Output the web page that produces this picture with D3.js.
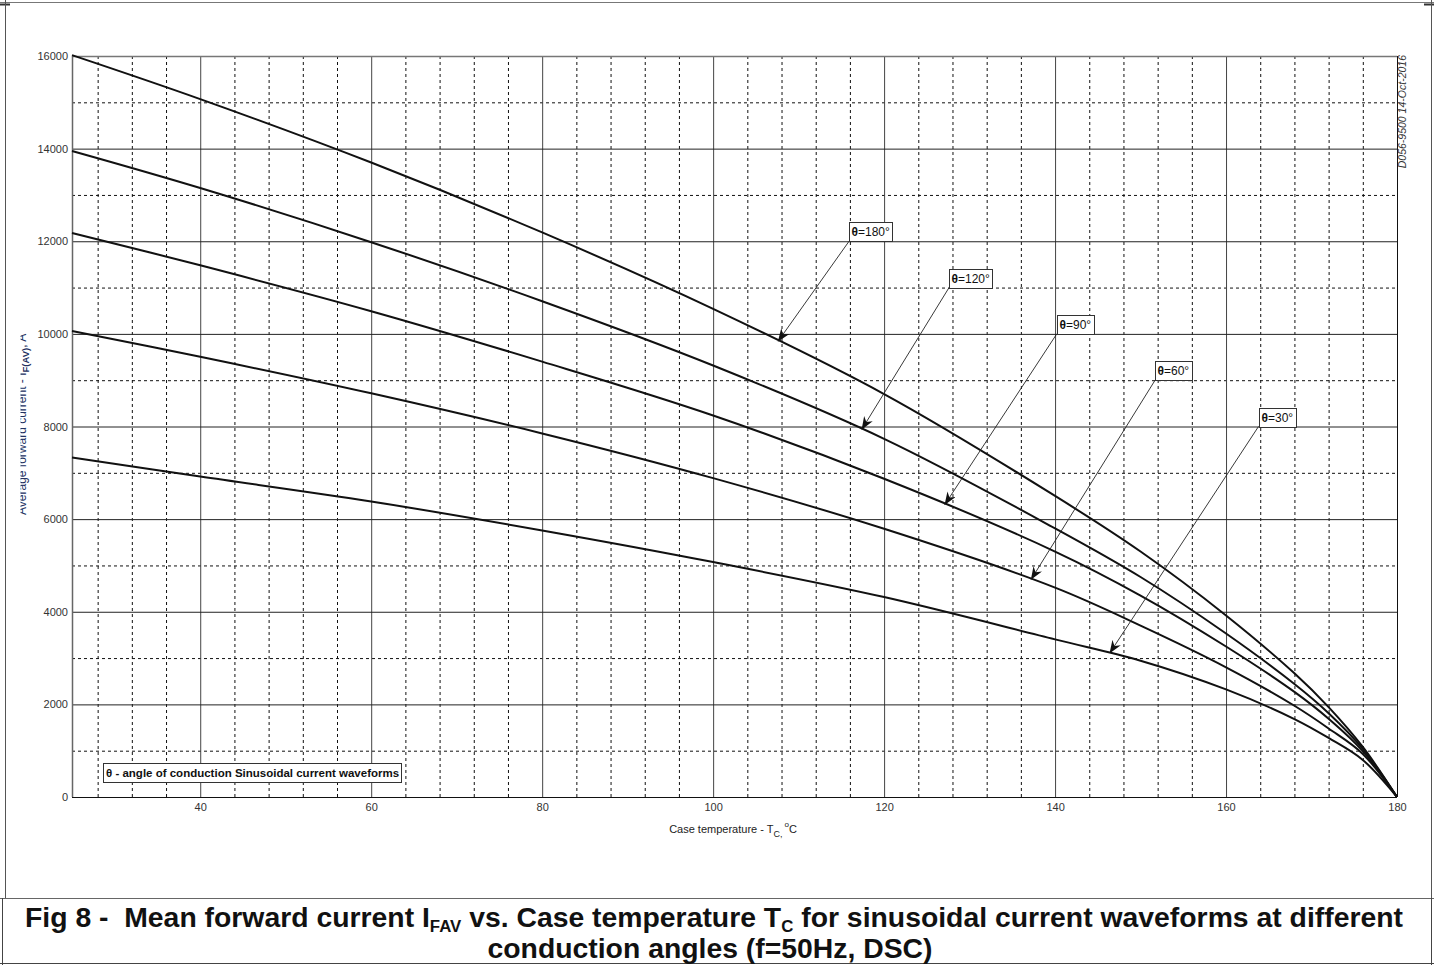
<!DOCTYPE html>
<html>
<head>
<meta charset="utf-8">
<script src="https://cdn.jsdelivr.net/npm/d3@7"></script>
<style>
  body { margin: 0; background: #fff; }
  svg { display: block; }
  text { font-family: "Liberation Sans", Arial, sans-serif; }
</style>
</head>
<body>
<div id="chart"></div>
<script>
// case temperature, degC
var temps = [25, 40, 60, 80, 100, 120, 140, 150, 160, 168, 172, 176, 180];

// mean forward current I_FAV (A), one list per conduction angle
var ifav180 = [16020, 15070, 13700, 12190, 10540, 8700, 6500, 5300, 3920, 2670, 1940, 1080, 0];
var ifav120 = [13950, 13150, 11980, 10705, 9317, 7734, 5800, 4750, 3530, 2440, 1810, 1040, 0];
var ifav90  = [12180, 11480, 10490, 9400, 8237, 6871, 5300, 4350, 3250, 2270, 1690, 990, 0];
var ifav60  = [10060, 9506, 8716, 7850, 6885, 5791, 4520, 3700, 2800, 1970, 1480, 930, 0];
var ifav30  = [7330, 6920, 6381, 5755, 5072, 4317, 3403, 2943, 2323, 1683, 1275, 800, 0];

var angles = [180, 120, 90, 60, 30];
var xTicks = [40, 60, 80, 100, 120, 140, 160, 180];
var yTicks = [0, 2000, 4000, 6000, 8000, 10000, 12000, 14000, 16000];

// label callouts: where the box sits (T, I) and where the arrow hits the curve (T)
var labelTemps  = [115.9, 127.6, 140.2, 151.7, 163.8];
var labelLevels = [12000, 11000, 10000, 9000, 8000];
var arrowTemps  = [107.6, 117.4, 127.1, 137.2, 146.4];

var W = 1434, H = 965;
var pLeft = 72, pRight = 1397, pTop = 56, pBottom = 797;

var series = [ifav180, ifav120, ifav90, ifav60, ifav30].map(function (vals, i) {
  return { angle: angles[i], values: temps.map(function (t, j) { return [t, vals[j]]; }) };
});

var x = d3.scaleLinear().domain([25, 180]).range([pLeft, pRight]);
var y = d3.scaleLinear().domain([0, 16000]).range([pBottom, pTop]);

var svg = d3.select("#chart").append("svg")
  .attr("width", W)
  .attr("height", H);

// page frame
svg.append("line").attr("x1", 0).attr("x2", W).attr("y1", 2.5).attr("y2", 2.5).attr("stroke", "#777");
svg.append("line").attr("x1", 0).attr("x2", 10).attr("y1", 4.5).attr("y2", 4.5).attr("stroke", "#333").attr("stroke-width", 2);
svg.append("line").attr("x1", 1424).attr("x2", W).attr("y1", 4.5).attr("y2", 4.5).attr("stroke", "#333").attr("stroke-width", 2);
svg.append("line").attr("x1", 5.5).attr("x2", 5.5).attr("y1", 0).attr("y2", 899).attr("stroke", "#555");
svg.append("line").attr("x1", 1431.5).attr("x2", 1431.5).attr("y1", 0).attr("y2", 899).attr("stroke", "#555");
svg.append("line").attr("x1", 0).attr("x2", W).attr("y1", 898.5).attr("y2", 898.5).attr("stroke", "#666");
svg.append("line").attr("x1", 2.5).attr("x2", 2.5).attr("y1", 898).attr("y2", H).attr("stroke", "#444");
svg.append("line").attr("x1", 1431.5).attr("x2", 1431.5).attr("y1", 898).attr("y2", H).attr("stroke", "#444");
svg.append("line").attr("x1", 0).attr("x2", W).attr("y1", 963.5).attr("y2", 963.5).attr("stroke", "#444");

// grid
var minorX = d3.range(28, 180, 4).filter(function (t) { return t % 20 !== 0; });
var majorX = d3.range(40, 180, 20);
var minorY = d3.range(1000, 16000, 2000);
var majorY = d3.range(2000, 16000, 2000);

function grid(axis, tr, dashed, color) {
  var g = svg.append("g").attr("transform", tr).call(axis);
  g.select(".domain").remove();
  g.selectAll("line")
    .attr("stroke", color)
    .attr("stroke-width", 1)
    .attr("stroke-dasharray", dashed ? "3,3" : null);
  return g;
}
grid(d3.axisBottom(x).tickValues(minorX).tickSize(-(pBottom - pTop)).tickFormat(""), "translate(0," + pBottom + ")", true, "#111");
grid(d3.axisLeft(y).tickValues(minorY).tickSize(-(pRight - pLeft)).tickFormat(""), "translate(" + pLeft + ",0)", true, "#111");
grid(d3.axisBottom(x).tickValues(majorX).tickSize(-(pBottom - pTop)).tickFormat(""), "translate(0," + pBottom + ")", false, "#444");
grid(d3.axisLeft(y).tickValues(majorY).tickSize(-(pRight - pLeft)).tickFormat(""), "translate(" + pLeft + ",0)", false, "#222");

// plot frame
svg.append("line").attr("x1", pLeft).attr("x2", pRight).attr("y1", y(16000) + 0.5).attr("y2", y(16000) + 0.5).attr("stroke", "#777").attr("stroke-width", 1.5);
svg.append("line").attr("x1", pLeft + 0.5).attr("x2", pLeft + 0.5).attr("y1", pTop).attr("y2", pBottom).attr("stroke", "#666").attr("stroke-width", 1.5);
svg.append("line").attr("x1", pRight + 0.5).attr("x2", pRight + 0.5).attr("y1", pTop).attr("y2", pBottom).attr("stroke", "#111");
svg.append("line").attr("x1", pLeft).attr("x2", pRight).attr("y1", pBottom + 0.5).attr("y2", pBottom + 0.5).attr("stroke", "#111");

// tick labels
var yAx = svg.append("g").attr("transform", "translate(" + pLeft + ",0)")
  .call(d3.axisLeft(y).tickValues(yTicks).tickFormat(d3.format("d")).tickSize(0).tickPadding(4));
yAx.select(".domain").remove();
yAx.selectAll("text").attr("font-family", "Liberation Sans, Arial, sans-serif").attr("font-size", 11).attr("fill", "#333");

var xAx = svg.append("g").attr("transform", "translate(0," + pBottom + ")")
  .call(d3.axisBottom(x).tickValues(xTicks).tickFormat(d3.format("d")).tickSize(0).tickPadding(6));
xAx.select(".domain").remove();
xAx.selectAll("text").attr("font-family", "Liberation Sans, Arial, sans-serif").attr("font-size", 11).attr("fill", "#333");

// x axis title
var xt = svg.append("text").attr("x", 733).attr("y", 833).attr("text-anchor", "middle")
  .attr("font-size", 11).attr("fill", "#222");
xt.append("tspan").text("Case temperature - T");
xt.append("tspan").attr("font-size", 9).attr("dy", 4).text("C,");
xt.append("tspan").attr("font-size", 8).attr("dy", -10).attr("dx", 2).text("o");
xt.append("tspan").attr("dy", 6).text("C");

// y axis title (partly cut off at the left in the source)
svg.append("clipPath").attr("id", "ylab-clip")
  .append("rect").attr("x", 20.5).attr("y", 300).attr("width", 30).attr("height", 260);
var yt = svg.append("g").attr("clip-path", "url(#ylab-clip)")
  .append("text").attr("transform", "translate(26,515) rotate(-90)")
  .attr("font-size", 12).attr("fill", "#23305e");
yt.append("tspan").text("Average forward current - I");
yt.append("tspan").attr("font-size", 9.5).attr("font-weight", "bold").attr("dy", 3).text("F(AV)");
yt.append("tspan").attr("dy", -3).text(", A");

// drawing id at the right edge
svg.append("text").attr("transform", "translate(1406,55) rotate(-90)")
  .attr("text-anchor", "end").attr("font-size", 10.5).attr("font-style", "italic").attr("fill", "#333")
  .text("D056-9500  14-Oct-2016");

// curves
var line = d3.line()
  .x(function (d) { return x(d[0]); })
  .y(function (d) { return y(d[1]); })
  .curve(d3.curveCatmullRom.alpha(0.5));

svg.append("g").selectAll("path")
  .data(series)
  .enter().append("path")
  .attr("d", function (d) { return line(d.values); })
  .attr("fill", "none")
  .attr("stroke", "#111")
  .attr("stroke-width", 2);

// arrow head
svg.append("defs").append("marker")
  .attr("id", "arrow")
  .attr("viewBox", "0 0 13 10")
  .attr("markerUnits", "userSpaceOnUse")
  .attr("markerWidth", 13).attr("markerHeight", 10)
  .attr("refX", 12.5).attr("refY", 5)
  .attr("orient", "auto")
  .append("path").attr("d", "M0,0 L13,5 L0,10 L4,5 Z").attr("fill", "#111");

// callouts
series.forEach(function (s, i) {
  var interp = d3.scaleLinear().domain(temps).range(s.values.map(function (d) { return d[1]; }));
  var bx = x(labelTemps[i]), by = y(labelLevels[i]);
  var tx = x(arrowTemps[i]), ty = y(interp(arrowTemps[i]));

  svg.append("line")
    .attr("x1", bx).attr("y1", by).attr("x2", tx).attr("y2", ty)
    .attr("stroke", "#222").attr("stroke-width", 0.9)
    .attr("marker-end", "url(#arrow)");

  var g = svg.append("g").attr("transform", "translate(" + Math.round(bx) + "," + Math.round(by - 19) + ")");
  var r = g.append("rect").attr("x", 0.5).attr("y", 0.5).attr("height", 19)
    .attr("fill", "#fff").attr("stroke", "#333");
  var t = g.append("text").attr("x", 2.5).attr("y", 14).attr("font-size", 12).attr("fill", "#111");
  t.append("tspan").attr("font-weight", "bold").text("\u03b8");
  t.append("tspan").text("=" + s.angle + "\u00b0");
  r.attr("width", Math.round(t.node().getComputedTextLength()) + 5);
});

// legend note
var lg = svg.append("g").attr("transform", "translate(" + (pLeft + 31) + "," + (pBottom - 34) + ")");
var lr = lg.append("rect").attr("x", 0.5).attr("y", 0.5).attr("height", 19)
  .attr("fill", "#fff").attr("stroke", "#333");
var lt = lg.append("text").attr("x", 3).attr("y", 14).attr("font-size", 11.5)
  .attr("font-weight", "bold").attr("fill", "#111")
  .text("\u03b8 - angle of conduction Sinusoidal current waveforms");
lr.attr("width", Math.round(lt.node().getComputedTextLength()) + 5);

// caption
var cap1 = svg.append("text").attr("x", 25).attr("y", 927)
  .attr("font-family", "DejaVu Sans Condensed, DejaVu Sans, sans-serif")
  .attr("font-weight", "bold").attr("font-size", 27).attr("fill", "#111")
  .style("white-space", "pre")
  .attr("textLength", 1378).attr("lengthAdjust", "spacingAndGlyphs");
cap1.append("tspan").text("Fig 8 -  Mean forward current I");
cap1.append("tspan").attr("font-size", 16).attr("dy", 5).text("FAV");
cap1.append("tspan").attr("dy", -5).text(" vs. Case temperature T");
cap1.append("tspan").attr("font-size", 16).attr("dy", 5).text("C");
cap1.append("tspan").attr("dy", -5).text(" for sinusoidal current waveforms at different");

svg.append("text").attr("x", 710).attr("y", 958).attr("text-anchor", "middle")
  .attr("font-family", "DejaVu Sans Condensed, DejaVu Sans, sans-serif")
  .attr("font-weight", "bold").attr("font-size", 27).attr("fill", "#111")
  .attr("textLength", 445).attr("lengthAdjust", "spacingAndGlyphs")
  .text("conduction angles (f=50Hz, DSC)");
</script>
</body>
</html>
